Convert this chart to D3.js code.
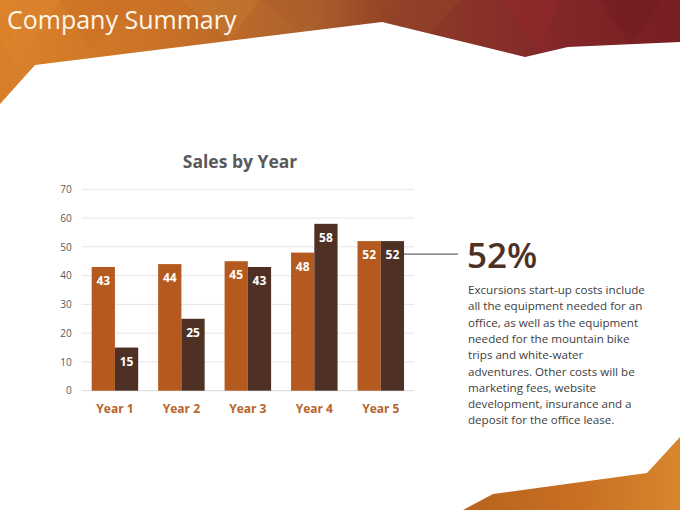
<!DOCTYPE html>
<html>
<head>
<meta charset="utf-8">
<script src="https://cdn.jsdelivr.net/npm/d3@7"></script>
<style>
html,body{margin:0;padding:0;background:#fff;}
svg{display:block;}
</style>
</head>
<body>
<svg id="c" width="680" height="510"></svg>
<script>
const categories = ["Year 1","Year 2","Year 3","Year 4","Year 5"];
const series1 = [43,44,45,48,52];
const series2 = [15,25,43,58,52];
const yTicks = [0,10,20,30,40,50,60,70];
const chartTitle = "Sales by Year";
const slideTitle = "Company Summary";
const bigStat = "52%";
const bodyLines = [
  "Excursions start-up costs include",
  "all the equipment needed for an",
  "office, as well as the equipment",
  "needed for the mountain bike",
  "trips and white-water",
  "adventures. Other costs will be",
  "marketing fees, website",
  "development, insurance and a",
  "deposit for the office lease."
];

const svg = d3.select("#c");
const W = 680, H = 510;
const font = "'Open Sans','Noto Sans','DejaVu Sans',sans-serif";

// ---- header decoration ----
const defs = svg.append("defs");
const g1 = defs.append("linearGradient").attr("id","hdr").attr("x1","0").attr("x2","1").attr("y1","0").attr("y2","0");
[[0,"#db822a"],[0.25,"#c87026"],[0.45,"#ad622c"],[0.6,"#8c3c26"],[0.8,"#84282a"],[1,"#761e22"]].forEach(s=>g1.append("stop").attr("offset",s[0]).attr("stop-color",s[1]));
svg.append("rect").attr("x",0).attr("y",0).attr("width",W).attr("height",110).attr("fill","url(#hdr)");
// facets
const facets = [
  [[0,0],[60,0],[20,60],"#e08a30",0.35],
  [[60,0],[140,0],[90,50],"#c86a22",0.3],
  [[180,0],[260,0],[230,40],"#d08a3a",0.25],
  [[260,0],[330,0],[300,30],"#a85a2a",0.3],
  [[380,0],[460,0],[420,45],"#9a4a2a",0.35],
  [[500,0],[560,0],[540,50],"#96282a",0.4],
  [[600,0],[660,0],[630,45],"#6a1a1e",0.35],
  [[0,40],[40,110],[0,110],"#d47a2a",0.4]
];
facets.forEach(f=>svg.append("path").attr("d",`M${f[0]}L${f[1]}L${f[2]}Z`).attr("fill",f[3]).attr("opacity",f[4]));
// white cut
svg.append("path")
  .attr("d","M0,104 L35,65 L382,22 L525,57 L568,47 L680,42 L680,120 L0,120 Z")
  .attr("fill","#fff");

// bottom-right decoration
const g2 = defs.append("linearGradient").attr("id","ftr").attr("x1","0").attr("x2","1").attr("y1","0").attr("y2","0");
[[0,"#b8641e"],[0.5,"#c66e22"],[1,"#d8862e"]].forEach(s=>g2.append("stop").attr("offset",s[0]).attr("stop-color",s[1]));
svg.append("path").attr("d","M463,510 L493,494 L647,473 L680,437 L680,510 Z").attr("fill","url(#ftr)");

// slide title
svg.append("text").attr("x",7).attr("y",29).attr("font-family",font).attr("font-size",25)
  .attr("font-weight",400).attr("fill","#fff6ea").text(slideTitle);

// ---- chart ----
const x0 = 81.7, x1 = 414, yBase = 390.7, yTop = 189.3;
const x = d3.scaleBand().domain(categories).range([x0,x1]).paddingInner(0.3).paddingOuter(0.15);
const xs = d3.scaleBand().domain([0,1]).range([0,x.bandwidth()]);
const y = d3.scaleLinear().domain([0,70]).range([yBase,yTop]);

svg.append("text").attr("x",240).attr("y",168).attr("text-anchor","middle")
  .attr("font-family",font).attr("font-size",17.5).attr("font-weight",700).attr("fill","#595959").text(chartTitle);

// gridlines
svg.append("g").selectAll("line").data(yTicks).join("line")
  .attr("x1",x0).attr("x2",x1).attr("y1",d=>y(d)).attr("y2",d=>y(d))
  .attr("stroke",d=>d===0?"#d9d9d9":"#e6e6e6").attr("stroke-width",1);

const yAxis = svg.append("g").attr("transform",`translate(${x0},0)`)
  .call(d3.axisLeft(y).tickValues(yTicks).tickSize(0).tickPadding(10));
yAxis.select(".domain").remove();
yAxis.selectAll("text").attr("font-family",font).attr("font-size",10).attr("fill","#595959");

const xAxis = svg.append("g").attr("transform",`translate(0,${yBase})`)
  .call(d3.axisBottom(x).tickSize(0).tickPadding(14));
xAxis.select(".domain").remove();
xAxis.selectAll("text").attr("font-family",font).attr("font-size",12).attr("font-weight",700).attr("fill","#b8642a");

const colors = ["#b55a1e","#4e3124"];
[series1,series2].forEach((s,si)=>{
  const g = svg.append("g");
  g.selectAll("rect").data(s).join("rect")
    .attr("x",(d,i)=>x(categories[i])+xs(si)).attr("width",xs.bandwidth())
    .attr("y",d=>y(d)).attr("height",d=>yBase-y(d)).attr("fill",colors[si]);
  g.selectAll("text").data(s).join("text")
    .attr("x",(d,i)=>x(categories[i])+xs(si)+xs.bandwidth()/2)
    .attr("y",d=>y(d)+18).attr("text-anchor","middle")
    .attr("font-family",font).attr("font-size",12).attr("font-weight",700).attr("fill","#fff").text(d=>d);
});

// callout line
const lastI = categories.length-1;
svg.append("line").attr("x1",x(categories[lastI])+x.bandwidth()).attr("x2",458)
  .attr("y1",y(series2[lastI])+13).attr("y2",y(series2[lastI])+13)
  .attr("stroke","#404040").attr("stroke-width",1);

svg.append("text").attr("x",467).attr("y",268).attr("font-family",font).attr("font-size",35)
  .attr("font-weight",600).attr("fill","#4e3124").text(bigStat);

svg.append("g").selectAll("text").data(bodyLines).join("text")
  .attr("x",468).attr("y",(d,i)=>294+i*16.3)
  .attr("font-family",font).attr("font-size",11.6).attr("fill","#404040").text(d=>d);
</script>
</body>
</html>
